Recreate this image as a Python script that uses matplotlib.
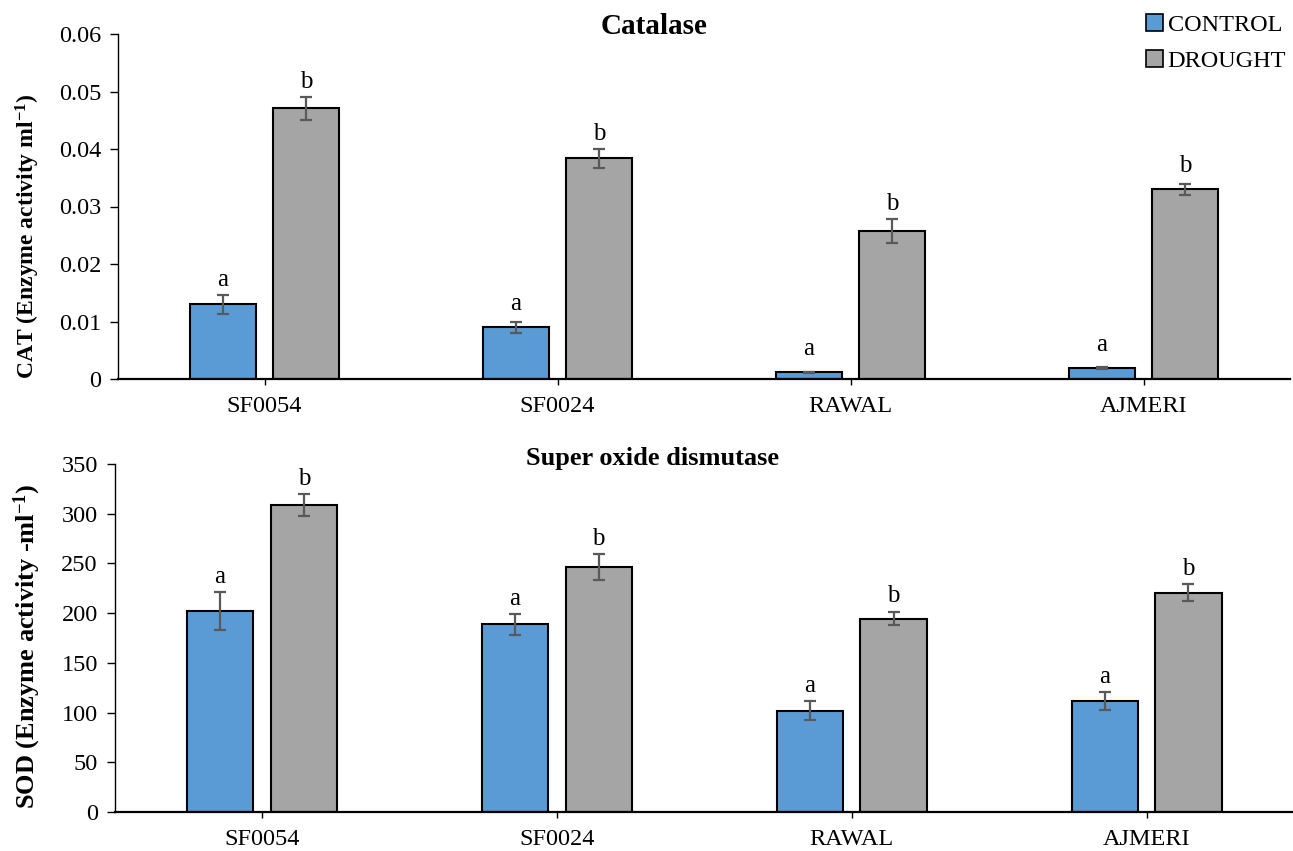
import matplotlib
matplotlib.use("Agg")
import matplotlib.pyplot as plt
import numpy as np
from matplotlib.patches import Patch

plt.rcParams['font.family'] = ['Liberation Serif', 'DejaVu Serif']
plt.rcParams['mathtext.default'] = 'regular'

categories = ["SF0054", "SF0024", "RAWAL", "AJMERI"]
series_names = ["CONTROL", "DROUGHT"]

cat_control = [0.013, 0.009, 0.0012, 0.0019]
cat_control_err = [0.00165, 0.001, 0.0001, 0.0002]
cat_drought = [0.0471, 0.0384, 0.0258, 0.033]
cat_drought_err = [0.002, 0.00165, 0.0021, 0.001]
cat_letters_control = ["a", "a", "a", "a"]
cat_letters_drought = ["b", "b", "b", "b"]
cat_yticks = [0, 0.01, 0.02, 0.03, 0.04, 0.05, 0.06]
cat_yticklabels = ["0", "0.01", "0.02", "0.03", "0.04", "0.05", "0.06"]

sod_control = [202, 189, 102, 111.5]
sod_control_err = [19, 10.5, 9.5, 9]
sod_drought = [309, 246.5, 194.5, 220.5]
sod_drought_err = [11, 13, 6.5, 8.5]
sod_letters_control = ["a", "a", "a", "a"]
sod_letters_drought = ["b", "b", "b", "b"]
sod_yticks = [0, 50, 100, 150, 200, 250, 300, 350]
sod_yticklabels = ["0", "50", "100", "150", "200", "250", "300", "350"]

C_CONTROL = "#5B9BD5"
C_DROUGHT = "#A5A5A5"
ERR_C = "#595959"

W, H = 1293, 851
fig = plt.figure(figsize=(W / 100, H / 100), dpi=100)

ax1 = fig.add_axes([118 / W, 1 - 379 / H, 1172 / W, 345 / H])
ax2 = fig.add_axes([114.5 / W, 1 - 812 / H, 1179.5 / W, 348 / H])

FS = 17.5
bw = 0.225
off = 0.142


def letters(ax, xs, vals, errs, labs):
    for xi, v, e, t in zip(xs, vals, errs, labs):
        _, py_bar = ax.transData.transform((xi, v))
        _, py_err = ax.transData.transform((xi, v + e))
        px_off = max(23.0, (py_err - py_bar) + 15.0)
        ax.annotate(t, (xi, v), xytext=(0, px_off * 0.72), textcoords="offset points",
                    ha="center", va="center", fontsize=18)


def draw(ax, ctrl, cerr, drt, derr, lc, ld, yticks, yticklabels):
    x = np.arange(len(categories))
    ax.bar(x - off, ctrl, bw, color=C_CONTROL, edgecolor="black", linewidth=1.5, zorder=2)
    ax.bar(x + off, drt, bw, color=C_DROUGHT, edgecolor="black", linewidth=1.5, zorder=2)
    ax.errorbar(x - off, ctrl, yerr=cerr, fmt="none", ecolor=ERR_C, elinewidth=1.6,
                capsize=4.5, capthick=1.6, zorder=3)
    ax.errorbar(x + off, drt, yerr=derr, fmt="none", ecolor=ERR_C, elinewidth=1.6,
                capsize=4.5, capthick=1.6, zorder=3)
    ax.set_xlim(-0.5, len(categories) - 0.5)
    ax.set_ylim(yticks[0], yticks[-1])
    ax.set_yticks(yticks)
    ax.set_yticklabels(yticklabels, fontsize=FS)
    ax.set_xticks(x)
    ax.set_xticklabels(categories, fontsize=FS)
    ax.spines["top"].set_visible(False)
    ax.spines["right"].set_visible(False)
    ax.spines["left"].set_linewidth(1.0)
    ax.spines["bottom"].set_linewidth(1.6)
    ax.tick_params(axis="y", direction="out", length=6, width=1.0, pad=6)
    ax.tick_params(axis="x", direction="out", length=4, width=1.0, pad=8)
    letters(ax, x - off, ctrl, cerr, lc)
    letters(ax, x + off, drt, derr, ld)


draw(ax1, cat_control, cat_control_err, cat_drought, cat_drought_err,
     cat_letters_control, cat_letters_drought, cat_yticks, cat_yticklabels)
draw(ax2, sod_control, sod_control_err, sod_drought, sod_drought_err,
     sod_letters_control, sod_letters_drought, sod_yticks, sod_yticklabels)

fig.text(28 / W, 1 - 236 / H, "CAT (Enzyme activity ml$^{-1}$)", rotation=90,
         ha="center", va="center", fontsize=17, fontweight="bold")
fig.text(27 / W, 1 - 646 / H, "SOD (Enzyme activity -ml$^{-1}$)", rotation=90,
         ha="center", va="center", fontsize=19, fontweight="bold")
fig.text(654 / W, 1 - 27 / H, "Catalase", ha="center", va="center",
         fontsize=21, fontweight="bold")
fig.text(653 / W, 1 - 458 / H, "Super oxide dismutase", ha="center", va="center",
         fontsize=19, fontweight="bold")

handles = [Patch(facecolor=C_CONTROL, edgecolor="black", linewidth=1.2),
           Patch(facecolor=C_DROUGHT, edgecolor="black", linewidth=1.2)]
fig.legend(handles, series_names, loc="upper right", bbox_to_anchor=(1296 / W, 1 - 4 / H),
           frameon=False, fontsize=FS, handlelength=0.7, handleheight=0.7,
           handletextpad=0.2, labelspacing=0.6, borderaxespad=0)

fig.savefig("out.png", dpi=100)
